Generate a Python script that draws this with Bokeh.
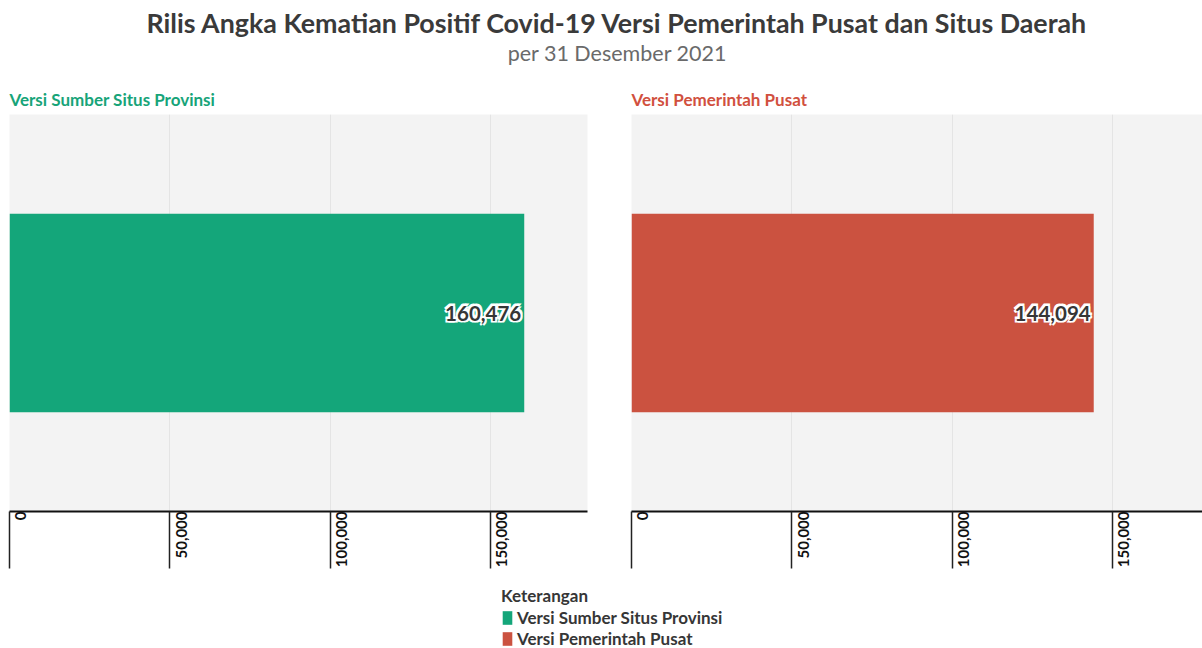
import math
from bokeh.plotting import figure
from bokeh.layouts import column, row
from bokeh.models import (Range1d, ColumnDataSource, Label, FixedTicker, NumeralTickFormatter,
                          Legend, LegendItem)
from bokeh.core.properties import value
from bokeh.embed import file_html
from bokeh.resources import INLINE

# ---------------- data ----------------
title_text = "Rilis Angka Kematian Positif Covid-19 Versi Pemerintah Pusat dan Situs Daerah"
subtitle_text = "per 31 Desember 2021"
categories = ["Versi Sumber Situs Provinsi", "Versi Pemerintah Pusat"]
values = [160476, 144094]
colors = ["#14a67a", "#cb5240"]
title_colors = ["#17a479", "#d1503e"]
tick_values = [0, 50000, 100000, 150000]
tick_labels = ["0", "50,000", "100,000", "150,000"]
legend_title = "Keterangan"

FONT = "Lato"
DARK = "#363636"
W = 1202

# ---------------- header ----------------
header = figure(width=W, height=82, x_range=Range1d(0, 1), y_range=Range1d(0, 1),
                x_axis_type=None, y_axis_type=None, toolbar_location=None,
                output_backend="svg", min_border=0, outline_line_color=None)
header.grid.visible = False
header.add_layout(Label(x=0.5133, y=0.72, text=title_text, text_align="center", text_baseline="middle",
                        text_font=FONT, text_font_style="bold", text_font_size="26.8px",
                        text_color="#3a3a3a"))
header.add_layout(Label(x=0.5133, y=0.354, text=subtitle_text, text_align="center", text_baseline="middle",
                        text_font=FONT, text_font_size="21.5px", text_color="#6a6a6a"))


def panel(i, frame_width, xmax, border_left, border_right, first_pad):
    p = figure(frame_width=frame_width, frame_height=397, x_range=Range1d(0, xmax),
               y_range=Range1d(0, 1), y_axis_type=None, toolbar_location=None,
               output_backend="svg", min_border_left=border_left, min_border_right=border_right,
               min_border_top=32, min_border_bottom=57, outline_line_color=None,
               background_fill_color="#f3f3f3")
    p.title.text = categories[i]
    p.title.text_color = title_colors[i]
    p.title.text_font = FONT
    p.title.text_font_size = "17px"
    p.title.text_font_style = "bold"
    p.title.offset = 0
    p.title.standoff = 9
    src = ColumnDataSource(dict(y=[0.5], right=[values[i]], label=[f"{values[i]:,}"]))
    p.hbar(y="y", left=0, right="right", height=0.5, source=src, color=colors[i], line_color=None)
    # white halo behind the value label
    for dx, dy in [(-1.5, -1.5), (1.5, -1.5), (-1.5, 1.5), (1.5, 1.5)]:
        p.text(x="right", y="y", text="label", source=src, text_align="right", text_baseline="middle",
               x_offset=-3 + dx, y_offset=dy, text_font=value(FONT), text_font_style="bold",
               text_font_size="20.5px", text_color="white", text_outline_color="white")
    p.text(x="right", y="y", text="label", source=src, text_align="right", text_baseline="middle",
           x_offset=-3, text_font=value(FONT), text_font_style="bold", text_font_size="20.5px",
           text_color=DARK)
    p.ygrid.visible = False
    p.xgrid.grid_line_color = "#e4e4e4"
    p.xgrid.ticker = FixedTicker(ticks=tick_values)
    ax = p.xaxis[0]
    ax.ticker = FixedTicker(ticks=tick_values)
    ax.formatter = NumeralTickFormatter(format="0,0")
    # leading blank lines push the rotated labels to the right of their tick lines
    overrides = {t: " \n \n" + lab for t, lab in zip(tick_values, tick_labels)}
    overrides[tick_values[0]] = first_pad + tick_labels[0]
    ax.major_label_overrides = overrides
    ax.axis_line_width = 2
    ax.axis_line_color = "#111111"
    ax.major_tick_out = 57
    ax.major_tick_in = 0
    ax.major_tick_line_color = "#222222"
    ax.major_tick_line_width = 1.5
    ax.minor_tick_out = 0
    ax.minor_tick_in = 0
    ax.major_label_orientation = math.pi / 2
    ax.major_label_standoff = -57
    ax.major_label_text_font = FONT
    ax.major_label_text_font_style = "bold"
    ax.major_label_text_font_size = "15px"
    ax.major_label_text_line_height = 0.6
    ax.major_label_text_color = "#111111"
    return p


p1 = panel(0, 578, 180200, 9, 22, " \n")
p2 = panel(1, 571, 178000, 22, 0, " \n \n")

# ---------------- legend ----------------
leg = figure(width=W, height=79, x_range=Range1d(-1, 0), y_range=Range1d(0, 1),
             x_axis_type=None, y_axis_type=None, toolbar_location=None,
             output_backend="svg", min_border=0, outline_line_color=None)
leg.grid.visible = False
items = []
for cat, val, col in zip(categories, values, colors):
    # swatch renderers lie outside the visible range; only their legend glyphs show
    r = leg.hbar(y=[0.5], left=0, right=[val], height=0.5, color=col, line_color=None)
    items.append(LegendItem(label=cat, renderers=[r]))
legend = Legend(items=items, location=(501, 0), title=legend_title,
                title_text_font=FONT, title_text_font_style="bold", title_text_font_size="17px",
                title_text_color=DARK, title_standoff=1,
                label_text_font=FONT, label_text_font_style="bold", label_text_font_size="17px",
                label_text_color=DARK, glyph_width=12, glyph_height=17, label_standoff=4,
                label_height=17, spacing=0, padding=0, margin=0, border_line_color=None,
                background_fill_alpha=0)
leg.add_layout(legend)

layout = column(header, row(p1, p2), leg)
open("out.html", "w").write(file_html(layout, INLINE))
